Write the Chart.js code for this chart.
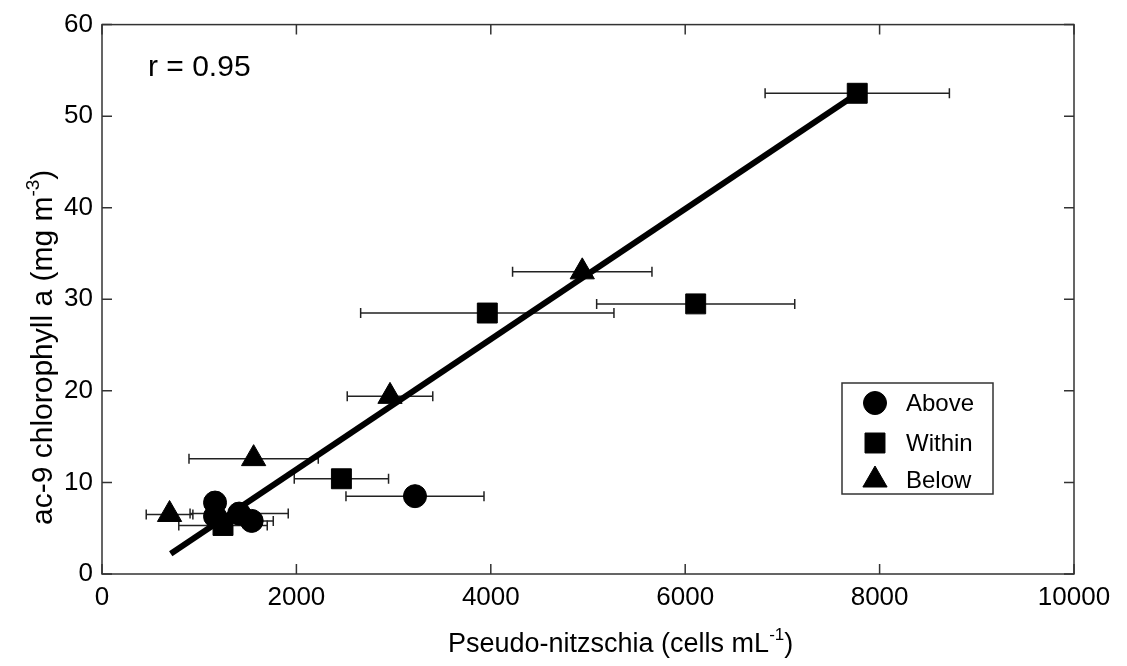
<!DOCTYPE html>
<html>
<head>
<meta charset="utf-8">
<script src="https://cdn.jsdelivr.net/npm/chart.js@4"></script>
<style>
  html, body { margin: 0; background: #fff; }
</style>
</head>
<body>
<canvas id="chart" width="1127" height="666"></canvas>
<script>
// values
const aboveX = [3220, 1163, 1163, 1411, 1540];
const aboveY = [8.5, 7.8, 6.3, 6.6, 5.8];
const aboveErr = [710, 100, 100, 505, 222];

const withinX = [7770, 3964, 6108, 2463, 1245];
const withinY = [52.5, 28.5, 29.5, 10.4, 5.3];
const withinErr = [948, 1303, 1019, 485, 455];

const belowX = [695, 1560, 2963, 4941];
const belowY = [6.5, 12.6, 19.4, 33.0];
const belowErr = [240, 665, 440, 717];

const fitX = [707, 7760];
const fitY = [2.2, 52.4];

const xTicks = [0, 2000, 4000, 6000, 8000, 10000];
const yTicks = [0, 10, 20, 30, 40, 50, 60];

const rText = "r = 0.95";
const FONT = "'Liberation Sans', Arial, Helvetica, sans-serif";

function pts(xs, ys) {
  return xs.map((x, i) => ({ x: x, y: ys[i] }));
}

// horizontal error bars, drawn under the markers
const errorBars = {
  id: 'errorBars',
  beforeDatasetsDraw(chart) {
    const ctx = chart.ctx;
    const xs = chart.scales.x, ys = chart.scales.y;
    ctx.save();
    ctx.strokeStyle = "#222";
    ctx.lineWidth = 1.5;
    chart.data.datasets.forEach(ds => {
      if (!ds.errX) return;
      ds.data.forEach((p, i) => {
        const e = ds.errX[i];
        const x1 = xs.getPixelForValue(p.x - e);
        const x2 = xs.getPixelForValue(p.x + e);
        const y = ys.getPixelForValue(p.y);
        ctx.beginPath();
        ctx.moveTo(x1, y); ctx.lineTo(x2, y);
        ctx.moveTo(x1, y - 5); ctx.lineTo(x1, y + 5);
        ctx.moveTo(x2, y - 5); ctx.lineTo(x2, y + 5);
        ctx.stroke();
      });
    });
    ctx.restore();
  }
};

// box around the axes with inward ticks, labels, r value, legend
const frame = {
  id: 'frame',
  afterDraw(chart) {
    const ctx = chart.ctx;
    const a = chart.chartArea;
    const xs = chart.scales.x, ys = chart.scales.y;
    ctx.save();
    ctx.strokeStyle = "#333";
    ctx.lineWidth = 1.5;
    ctx.strokeRect(a.left, a.top, a.right - a.left, a.bottom - a.top);
    ctx.beginPath();
    xTicks.forEach(v => {
      const x = xs.getPixelForValue(v);
      ctx.moveTo(x, a.bottom); ctx.lineTo(x, a.bottom - 10);
      ctx.moveTo(x, a.top); ctx.lineTo(x, a.top + 10);
    });
    yTicks.forEach(v => {
      const y = ys.getPixelForValue(v);
      ctx.moveTo(a.left, y); ctx.lineTo(a.left + 10, y);
      ctx.moveTo(a.right, y); ctx.lineTo(a.right - 10, y);
    });
    ctx.stroke();

    ctx.fillStyle = "#000";
    ctx.textBaseline = "alphabetic";
    ctx.textAlign = "left";

    // r value
    ctx.font = "30px " + FONT;
    ctx.fillText(rText, 148, 76);

    // x axis title
    drawParts(ctx, [["Pseudo-nitzschia (cells mL", 0], ["-1", 1], [")", 0]], 448, 652, 27);

    // y axis title, rotated
    ctx.save();
    ctx.translate(52, 525);
    ctx.rotate(-Math.PI / 2);
    drawParts(ctx, [["ac-9 chlorophyll a (mg m", 0], ["-3", 1], [")", 0]], 0, 0, 30);
    ctx.restore();

    // legend
    const lx = 842, ly = 383, lw = 151, lh = 111;
    ctx.fillStyle = "#fff";
    ctx.fillRect(lx, ly, lw, lh);
    ctx.strokeStyle = "#333";
    ctx.lineWidth = 1.5;
    ctx.strokeRect(lx, ly, lw, lh);
    ctx.font = "24px " + FONT;
    ctx.textBaseline = "middle";
    chart.data.datasets.forEach(ds => {
      if (!ds.legendY) return;
      ctx.fillStyle = "#000";
      ctx.strokeStyle = "#000";
      ctx.lineWidth = 1;
      Chart.helpers.drawPoint(ctx, { pointStyle: ds.pointStyle, radius: ds.pointRadius, rotation: 0, borderWidth: 1 }, 875, ly + ds.legendY);
      ctx.fillStyle = "#000";
      ctx.fillText(ds.label, 906, ly + ds.legendY + 1);
    });
    ctx.restore();
  }
};

function drawParts(ctx, parts, x, y, size) {
  parts.forEach(([t, sup]) => {
    ctx.font = (sup ? Math.round(size * 0.62) : size) + "px " + FONT;
    ctx.fillText(t, x, sup ? y - size * 0.45 : y);
    x += ctx.measureText(t).width;
  });
}

new Chart(document.getElementById("chart"), {
  type: "scatter",
  data: {
    datasets: [
      {
        type: "line",
        label: "fit",
        data: pts(fitX, fitY),
        borderColor: "#000",
        borderWidth: 6,
        pointRadius: 0,
        fill: false
      },
      {
        label: "Above",
        data: pts(aboveX, aboveY),
        errX: aboveErr,
        pointStyle: "circle",
        pointRadius: 11.5,
        backgroundColor: "#000",
        borderColor: "#000",
        legendY: 20
      },
      {
        label: "Within",
        data: pts(withinX, withinY),
        errX: withinErr,
        pointStyle: "rect",
        pointRadius: 14.1,
        backgroundColor: "#000",
        borderColor: "#000",
        legendY: 60
      },
      {
        label: "Below",
        data: pts(belowX, belowY),
        errX: belowErr,
        pointStyle: "triangle",
        pointRadius: 14,
        backgroundColor: "#000",
        borderColor: "#000",
        legendY: 97
      }
    ]
  },
  options: {
    responsive: false,
    animation: false,
    layout: { padding: { left: 0, right: 53, top: 20, bottom: 0 } },
    plugins: {
      legend: { display: false },
      tooltip: { enabled: false }
    },
    scales: {
      x: {
        type: "linear",
        min: 0,
        max: 10000,
        afterBuildTicks: s => { s.ticks = xTicks.map(v => ({ value: v })); },
        afterFit: s => { s.height = 92; },
        grid: { display: false, drawTicks: false },
        border: { display: false },
        ticks: { color: "#000", padding: 8, maxRotation: 0, font: { family: FONT, size: 26 }, callback: v => String(v) }
      },
      y: {
        min: 0,
        max: 60,
        afterBuildTicks: s => { s.ticks = yTicks.map(v => ({ value: v })); },
        afterFit: s => { s.width = 102; },
        grid: { display: false, drawTicks: false },
        border: { display: false },
        ticks: { color: "#000", padding: 9, font: { family: FONT, size: 26 }, callback: v => String(v) }
      }
    }
  },
  plugins: [errorBars, frame]
});
</script>
</body>
</html>
